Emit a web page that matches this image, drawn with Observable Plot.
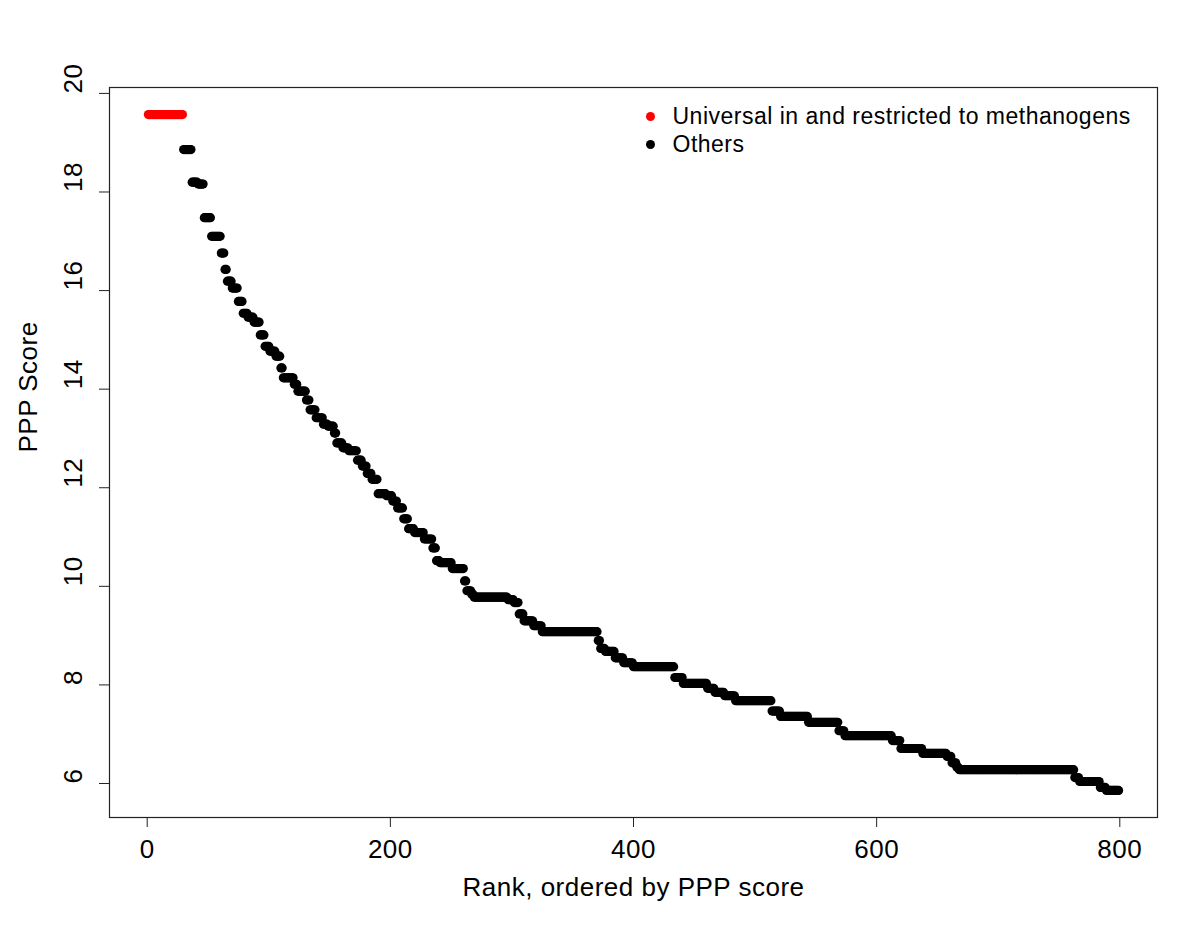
<!DOCTYPE html>
<html>
<head>
<meta charset="utf-8">
<script src="https://cdn.jsdelivr.net/npm/d3@7"></script>
<script src="https://cdn.jsdelivr.net/npm/@observablehq/plot@0.6"></script>
<style>
  html, body { margin: 0; padding: 0; background: white; }
  svg { display: block; }
</style>
</head>
<body>
<div id="chart"></div>
<script>
// Legend categories and colours
const categories = ["Universal in and restricted to methanogens", "Others"];
const categoryColors = ["#ff0000", "#000000"];

// Runs of equal PPP score (rank from, rank to, score); first run is the red category
const runStart = [1,30,37,42,47,53,61,64,66,70, 75,79,83,88,93,97,101,106,110,112, 121,124,131,134,139,145,149,154,156,161, 166,173,177,181,185,190,197,202,206,211, 215,220,228,235,238,241,251,261,263,267, 269,297,302,306,310,318,325,371,373,377, 385,392,400,434,441,461,467,475,484,514, 521,544,569,574,613,620,638,658,662,666, 668,763,767,784,789];
const runEnd = [29,36,41,46,52,60,63,65,69,74, 78,82,87,92,96,100,105,109,111,120, 123,130,133,138,144,148,153,155,160,165, 172,176,180,184,189,196,201,205,210,214, 219,227,234,237,240,250,260,262,266,268, 296,301,305,309,317,324,370,372,376,384, 391,399,433,440,460,466,474,483,513,520, 543,568,573,612,619,637,657,661,665,667, 762,766,783,788,799];
const runScore = [19.57,18.86,18.2,18.16,17.48,17.1,16.76,16.43,16.19,16.05, 15.78,15.54,15.46,15.36,15.10,14.87,14.77,14.67,14.43,14.23, 14.10,13.96,13.78,13.58,13.42,13.29,13.25,13.11,12.91,12.81, 12.75,12.56,12.44,12.29,12.17,11.88,11.84,11.73,11.59,11.37, 11.17,11.09,10.96,10.78,10.52,10.48,10.36,10.11,9.91,9.84, 9.78,9.73,9.67,9.44,9.30,9.20,9.08,8.90,8.74,8.68, 8.55,8.45,8.37,8.15,8.03,7.93,7.85,7.78,7.68,7.47, 7.36,7.24,7.07,6.97,6.87,6.71,6.61,6.55,6.42,6.33, 6.28,6.12,6.04,5.92,5.86];
const runCategory = runStart.map((s, i) => i === 0 ? 0 : 1);

// Tick labels and axis titles
const xTicks = [0, 200, 400, 600, 800];
const yTicks = [6, 8, 10, 12, 14, 16, 18, 20];
const xTitle = "Rank, ordered by PPP score";
const yTitle = "PPP Score";

// One point per rank (each run holds a constant score)
const points = [];
runStart.forEach((s, i) => {
  for (let r = s; r <= runEnd[i]; r++) {
    points.push({rank: r, score: runScore[i], cat: runCategory[i]});
  }
});

const font = "'Liberation Sans', Arial, Helvetica, sans-serif";

const legendMarks = categories.flatMap((label, i) => [
  Plot.dot([label], {frameAnchor: "top-left", dx: 541, dy: 29 + 28 * i, r: 4.5, fill: categoryColors[i]}),
  Plot.text([label], {frameAnchor: "top-left", dx: 563, dy: 29 + 28 * i, text: d => d, textAnchor: "start", lineAnchor: "middle", fontSize: 23, fill: "black"})
]);

const chart = Plot.plot({
  width: 1200,
  height: 927,
  marginLeft: 109,
  marginRight: 43,
  marginTop: 87,
  marginBottom: 110,
  x: {domain: [-31, 831]},
  y: {domain: [5.31, 20.12]},
  style: {fontFamily: font, fontSize: "26px", background: "white", color: "black", letterSpacing: "0.5px"},
  marks: [
    Plot.frame({stroke: "#222", strokeWidth: 1.2}),
    Plot.axisX(xTicks, {tickSize: 10, tickPadding: 12, fontSize: 26, label: null, stroke: "#222"}),
    Plot.axisY(yTicks, {tickSize: 10, tickFormat: () => "", label: null, stroke: "#222"}),
    Plot.text(yTicks, {y: d => d, frameAnchor: "left", dx: -36, rotate: -90, text: d => String(d), lineAnchor: "middle", fontSize: 26, fill: "black"}),
    Plot.text([xTitle], {frameAnchor: "bottom", dy: 70, text: d => d, lineAnchor: "middle", fontSize: 26, fill: "black"}),
    Plot.text([yTitle], {frameAnchor: "left", dx: -81, rotate: -90, text: d => d, lineAnchor: "middle", fontSize: 26, fill: "black"}),
    Plot.dot(points, {x: "rank", y: "score", r: 4.6, fill: d => categoryColors[d.cat]}),
    ...legendMarks
  ]
});
document.getElementById("chart").appendChild(chart);
</script>
</body>
</html>
